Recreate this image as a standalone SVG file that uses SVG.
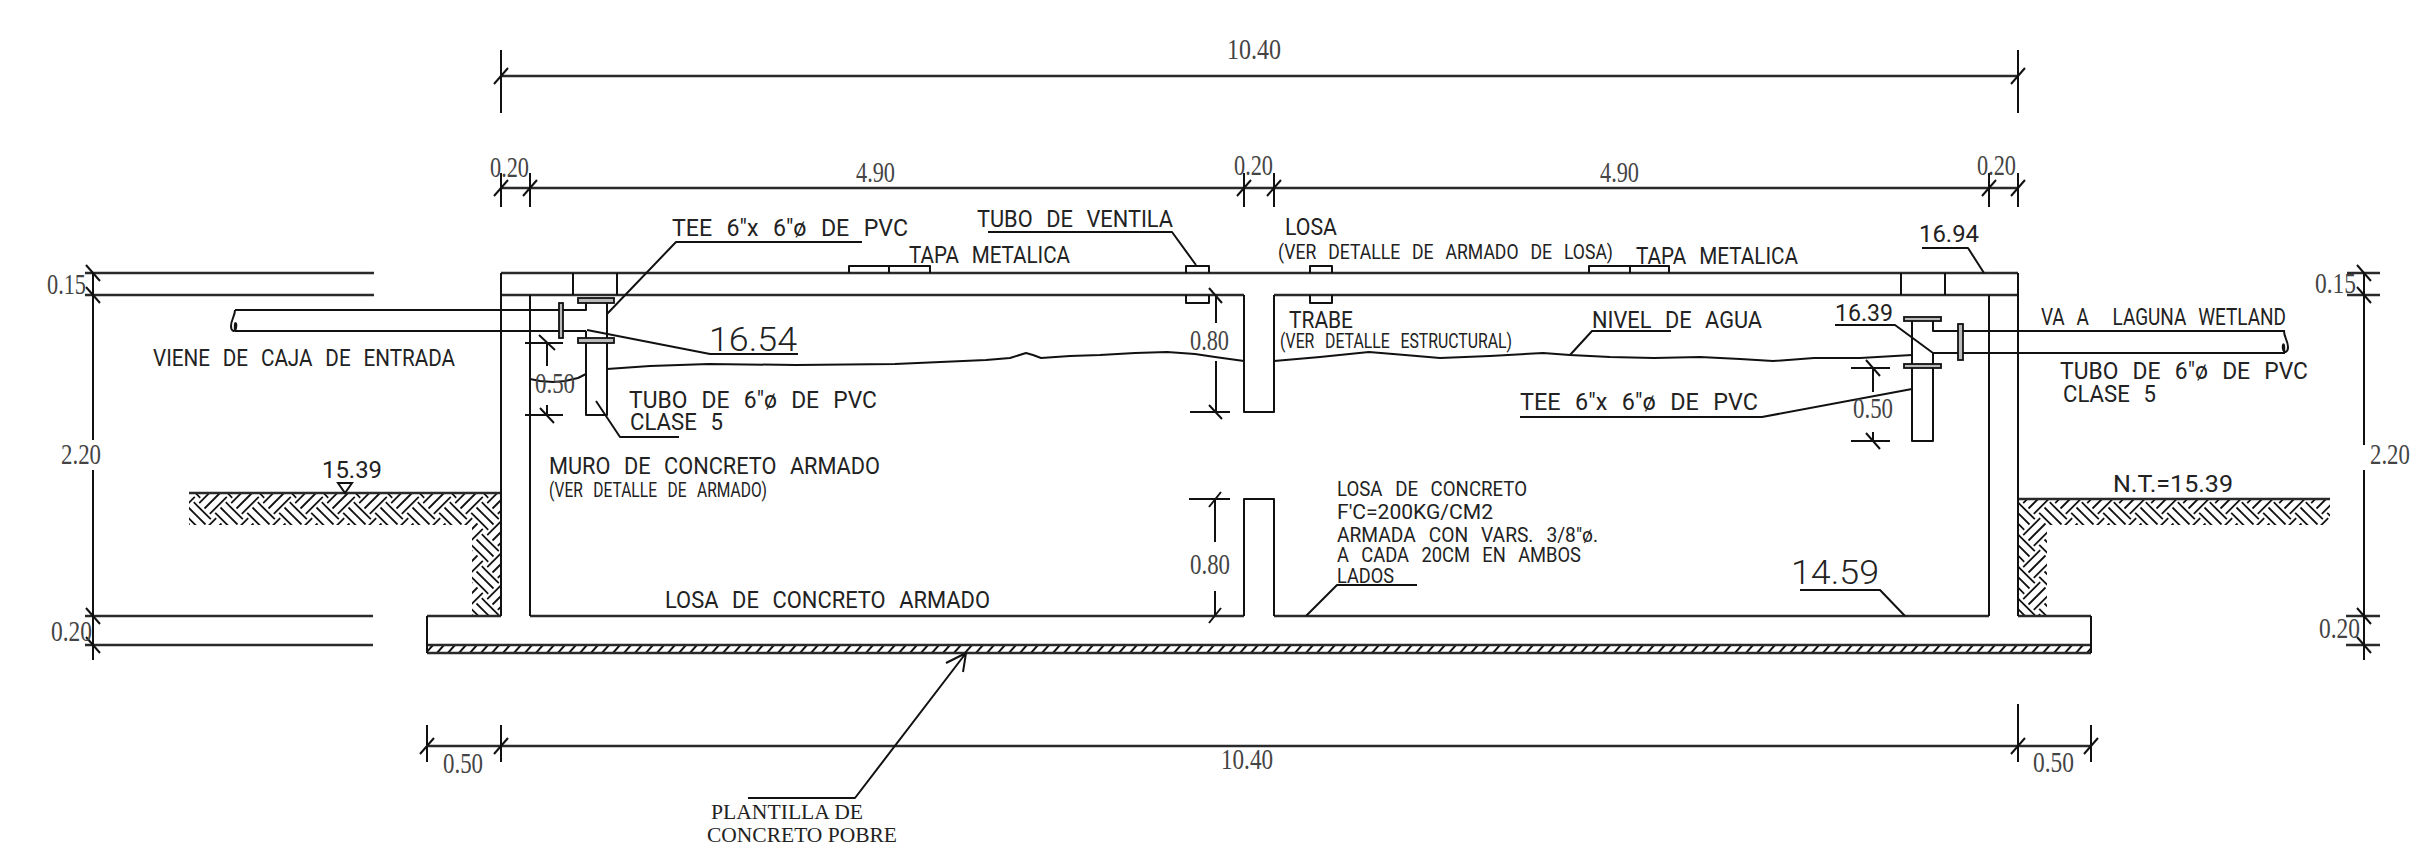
<svg xmlns="http://www.w3.org/2000/svg" width="2417" height="855" viewBox="0 0 2417 855">
<style>
.l{fill:none;stroke:#111;stroke-width:2;stroke-linejoin:round}
.h{fill:none;stroke:#2a2a2a;stroke-width:2.6}
.f{fill:#bbb;stroke:#111;stroke-width:1.8}
.t{font-family:"Roboto","Liberation Sans",sans-serif;font-weight:400;fill:#222;word-spacing:9px}
.t16{font-size:24px}
.t14{font-size:21px}
.big{font-size:34px;font-weight:300}
.d{font-family:"Liberation Serif",serif;font-size:30px;fill:#444}
.s{font-family:"Liberation Serif",serif;font-size:22px;fill:#222}
</style>
<defs>
<pattern id="tierra" patternUnits="userSpaceOnUse" width="32" height="32" x="5" y="4">
<path fill="none" stroke="#111" stroke-width="1.8" d="M7.5 24.5L24.5 7.5M12.8 29.8L29.8 12.8M2.2 19.2L19.2 2.2M-8.5 -8.5L8.5 8.5M-3.2 -13.8L13.8 3.2M-13.8 -3.2L3.2 13.8M23.5 -8.5L40.5 8.5M28.8 -13.8L45.8 3.2M18.2 -3.2L35.2 13.8M-8.5 23.5L8.5 40.5M-3.2 18.2L13.8 35.2M-13.8 28.8L3.2 45.8M23.5 23.5L40.5 40.5M28.8 18.2L45.8 35.2M18.2 28.8L35.2 45.8"/>
</pattern>
<pattern id="plantilla" patternUnits="userSpaceOnUse" width="11" height="8" y="645">
<path fill="none" stroke="#111" stroke-width="2" d="M-3 8L4 0M8 8L15 0"/>
</pattern>
</defs>

<g id="estructura">
<path d="M189 493H501V616H472V525H189Z" fill="url(#tierra)"/>
<path d="M2018 499H2330V525H2047V616H2018Z" fill="url(#tierra)"/>
<rect x="427" y="645" width="1664" height="8" fill="url(#plantilla)"/>
<path class="h" d="M501 273H2018M501 295H1244M1274 295H2018M189 493H501M2018 499H2330M427 616H501M530 616H1244M1274 616H1989M2018 616H2091M427 645H2091M427 653H2091"/>
<path class="l" d="M501 273V616M530 295V616M1989 295V616M2018 273V616M427 616V653M2091 616V653M1244 295V412H1274V295M1244 616V499H1274V616M573 273V295M617 273V295M1901 273V295M1945 273V295"/>
<path class="l" d="M849 273V266H930V273M889 266V273M1589 273V266H1669V273M1630 266V273M1186 273V266H1209V273M1186 295V303H1209V295M1310 273V266H1332V273M1310 295V303H1332V295"/>
</g>

<g id="tuberia-entrada">
<path class="l" d="M235 310H586V303M235 331H586M586 331V338M607 303V338M586 343V415H607V343"/>
<path class="l" d="M235 310C235 316 231 320 231 326C231 331 235 333 236 328C237 323 234 319 235 331"/>
<rect class="f" x="578" y="298" width="36" height="5"/>
<rect class="f" x="578" y="338" width="36" height="5"/>
<rect class="f" x="559" y="303" width="4" height="35"/>
</g>

<g id="tuberia-salida">
<path class="l" d="M1933 321V331H2285M1933 353H2285M1933 353V364M1912 321V364M1912 368V441H1933V368"/>
<path class="l" d="M2284 331C2284 337 2288 341 2288 347C2288 352 2284 354 2283 349C2282 344 2285 340 2284 353"/>
<rect class="f" x="1904" y="317" width="37" height="4"/>
<rect class="f" x="1904" y="364" width="37" height="4"/>
<rect class="f" x="1958" y="324" width="5" height="36"/>
</g>

<g id="nivel-agua">
<polyline class="l" points="530,379 540,381 553,382 565,381 578,378 586,374"/>
<polyline class="l" points="607,369 650,366 709,364 796,365 895,364 986,360 1010,358 1026,353 1033,355 1041,358 1070,356 1100,355 1135,353 1167,352 1195,354 1215,357 1244,361"/>
<polyline class="l" points="1274,361 1320,357 1369,352 1405,355 1440,358 1490,356 1543,353 1570,355 1610,357 1654,358 1700,357 1740,359 1773,361 1814,358 1860,358 1912,355"/>
</g>

<g id="conectores">
<path class="h" d="M501 76H2018M501 188H2018M427 746H2091M85 273H374M85 295H374M85 616H373M85 645H373M2347 273H2380M2347 295H2380M2346 616H2380M2346 645H2380"/>
<path class="l" d="M501 50V113M2018 50V113M501 173V207M530 173V207M1244 173V207M1274 173V207M1989 173V207M2018 173V207M427 725V762M501 725V762M2018 704V762M2091 725V762"/>
<path class="l" d="M494 84L508 68M2011 84L2025 68M494 196L508 180M523 196L537 180M1237 196L1251 180M1267 196L1281 180M1982 196L1996 180M2011 196L2025 180M420 754L434 738M494 754L508 738M2011 754L2025 738M2084 754L2098 738"/>
<path class="l" d="M93 273V440M93 470V660M2364 273V445M2364 470V660"/>
<path class="l" d="M86 265L100 281M86 287L100 303M86 608L100 624M86 637L100 653M2357 265L2371 281M2357 287L2371 303M2357 608L2371 624M2357 637L2371 653"/>
<path class="l" d="M525 343H563M525 415H563M547 343V366M547 405V415M539 335L555 350M540 408L554 423"/>
<path class="l" d="M1851 368H1890M1851 441H1890M1873 368V392M1873 432V441M1866 360L1880 376M1866 433L1880 449"/>
<path class="l" d="M1190 412H1230M1216 295V323M1216 361V412M1209 288L1222 303M1209 405L1222 419"/>
<path class="l" d="M1189 499H1230M1215 499V542M1215 591V616M1221 492L1209 507M1221 608L1209 623"/>
<path class="l" d="M607 314L676 242H862"/>
<path class="l" d="M587 330L710 354H798"/>
<path class="l" d="M596 401L620 437H679"/>
<path class="l" d="M988 232H1172L1196 265"/>
<path class="l" d="M1671 331H1592L1570 355"/>
<path class="l" d="M1933 353L1895 325H1835"/>
<path class="l" d="M1912 389L1762 417H1520"/>
<path class="l" d="M1922 248H1968L1984 273"/>
<path class="l" d="M1417 585H1337L1306 616"/>
<path class="l" d="M1800 590H1880L1905 616"/>
<path class="l" d="M748 798H855L966 653M946 663L966 653L963 672"/>
<path fill="none" stroke="#111" stroke-width="2" d="M338 483H352L345 493Z"/>
</g>

<g id="cotas">
<text class="d" x="1227" y="59" textLength="54" lengthAdjust="spacingAndGlyphs">10.40</text>
<text class="d" x="490" y="177" textLength="39" lengthAdjust="spacingAndGlyphs">0.20</text>
<text class="d" x="856" y="182" textLength="39" lengthAdjust="spacingAndGlyphs">4.90</text>
<text class="d" x="1234" y="175" textLength="39" lengthAdjust="spacingAndGlyphs">0.20</text>
<text class="d" x="1600" y="182" textLength="39" lengthAdjust="spacingAndGlyphs">4.90</text>
<text class="d" x="1977" y="175" textLength="39" lengthAdjust="spacingAndGlyphs">0.20</text>
<text class="d" x="47" y="294" textLength="39" lengthAdjust="spacingAndGlyphs">0.15</text>
<text class="d" x="61" y="464" textLength="40" lengthAdjust="spacingAndGlyphs">2.20</text>
<text class="d" x="51" y="641" textLength="41" lengthAdjust="spacingAndGlyphs">0.20</text>
<text class="d" x="2315" y="293" textLength="41" lengthAdjust="spacingAndGlyphs">0.15</text>
<text class="d" transform="translate(2370 464) scale(.76 1)">2.20</text>
<text class="d" x="2319" y="638" textLength="41" lengthAdjust="spacingAndGlyphs">0.20</text>
<text class="d" x="535" y="393" textLength="40" lengthAdjust="spacingAndGlyphs">0.50</text>
<text class="d" x="1853" y="418" textLength="40" lengthAdjust="spacingAndGlyphs">0.50</text>
<text class="d" x="1190" y="350" textLength="39" lengthAdjust="spacingAndGlyphs">0.80</text>
<text class="d" x="1190" y="574" textLength="40" lengthAdjust="spacingAndGlyphs">0.80</text>
<text class="d" x="443" y="773" textLength="40" lengthAdjust="spacingAndGlyphs">0.50</text>
<text class="d" x="1221" y="769" textLength="52" lengthAdjust="spacingAndGlyphs">10.40</text>
<text class="d" x="2033" y="772" textLength="41" lengthAdjust="spacingAndGlyphs">0.50</text>
</g>

<g id="rotulos">
<text class="t t16" x="153" y="366" textLength="302" lengthAdjust="spacingAndGlyphs">VIENE DE CAJA DE ENTRADA</text>
<text class="t t16" x="322" y="478" textLength="60" lengthAdjust="spacingAndGlyphs">15.39</text>
<text class="t t16" x="672" y="236" textLength="236" lengthAdjust="spacingAndGlyphs">TEE 6"x 6"ø DE PVC</text>
<text class="t big" x="709" y="351" textLength="88" lengthAdjust="spacingAndGlyphs">16.54</text>
<text class="t t16" x="629" y="408" textLength="248" lengthAdjust="spacingAndGlyphs">TUBO DE 6"ø DE PVC</text>
<text class="t t16" x="630" y="430" textLength="93" lengthAdjust="spacingAndGlyphs">CLASE 5</text>
<text class="t t16" x="549" y="474" textLength="331" lengthAdjust="spacingAndGlyphs">MURO DE CONCRETO ARMADO</text>
<text class="t t14" x="549" y="497" textLength="218" lengthAdjust="spacingAndGlyphs">(VER DETALLE DE ARMADO)</text>
<text class="t t16" x="977" y="227" textLength="196" lengthAdjust="spacingAndGlyphs">TUBO DE VENTILA</text>
<text class="t t16" x="909" y="263" textLength="161" lengthAdjust="spacingAndGlyphs">TAPA METALICA</text>
<text class="t t16" x="1285" y="235" textLength="52" lengthAdjust="spacingAndGlyphs">LOSA</text>
<text class="t t14" x="1278" y="259" textLength="335" lengthAdjust="spacingAndGlyphs">(VER DETALLE DE ARMADO DE LOSA)</text>
<text class="t t16" x="1636" y="264" textLength="162" lengthAdjust="spacingAndGlyphs">TAPA METALICA</text>
<text class="t t16" x="1289" y="328" textLength="64" lengthAdjust="spacingAndGlyphs">TRABE</text>
<text class="t t14" x="1280" y="348" textLength="232" lengthAdjust="spacingAndGlyphs">(VER DETALLE ESTRUCTURAL)</text>
<text class="t t16" x="1592" y="328" textLength="170" lengthAdjust="spacingAndGlyphs">NIVEL DE AGUA</text>
<text class="t t16" x="1520" y="410" textLength="238" lengthAdjust="spacingAndGlyphs">TEE 6"x 6"ø DE PVC</text>
<text class="t t16" x="1919" y="242" textLength="60" lengthAdjust="spacingAndGlyphs">16.94</text>
<text class="t t16" x="1835" y="321" textLength="58" lengthAdjust="spacingAndGlyphs">16.39</text>
<text class="t t16" x="2041" y="325" textLength="245" lengthAdjust="spacingAndGlyphs" xml:space="preserve">VA A  LAGUNA WETLAND</text>
<text class="t t16" x="2060" y="379" textLength="248" lengthAdjust="spacingAndGlyphs">TUBO DE 6"ø DE PVC</text>
<text class="t t16" x="2063" y="402" textLength="93" lengthAdjust="spacingAndGlyphs">CLASE 5</text>
<text class="t t16" x="2113" y="492" textLength="120" lengthAdjust="spacingAndGlyphs">N.T.=15.39</text>
<text class="t t14" x="1337" y="496" textLength="190" lengthAdjust="spacingAndGlyphs">LOSA DE CONCRETO</text>
<text class="t t14" x="1337" y="519" textLength="156" lengthAdjust="spacingAndGlyphs">F'C=200KG/CM2</text>
<text class="t t14" x="1337" y="542" textLength="261" lengthAdjust="spacingAndGlyphs">ARMADA CON VARS. 3/8"ø.</text>
<text class="t t14" x="1337" y="562" textLength="244" lengthAdjust="spacingAndGlyphs">A CADA 20CM EN AMBOS</text>
<text class="t t14" x="1337" y="583" textLength="57" lengthAdjust="spacingAndGlyphs">LADOS</text>
<text class="t big" x="1791" y="584" textLength="88" lengthAdjust="spacingAndGlyphs">14.59</text>
<text class="t t16" x="665" y="608" textLength="325" lengthAdjust="spacingAndGlyphs">LOSA DE CONCRETO ARMADO</text>
<text class="s" x="711" y="819" textLength="152" lengthAdjust="spacingAndGlyphs">PLANTILLA DE</text>
<text class="s" x="707" y="842" textLength="190" lengthAdjust="spacingAndGlyphs">CONCRETO POBRE</text>
</g>
</svg>
